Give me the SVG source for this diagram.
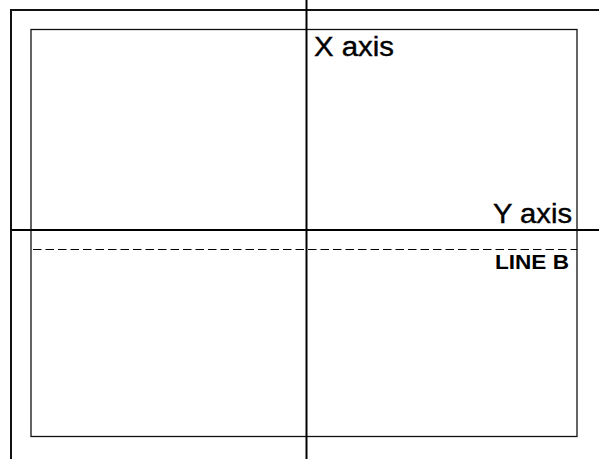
<svg xmlns="http://www.w3.org/2000/svg" width="599" height="459" viewBox="0 0 599 459">
<style>
.frame{stroke:#111;stroke-width:2;fill:none}
.axis{stroke:#000;stroke-width:2;fill:none}
.inner{stroke:#111;stroke-width:1.3;fill:none}
.dash{stroke:#000;stroke-width:1;stroke-dasharray:8.5 4;fill:none}
.lbl{font-family:"Liberation Sans",Arial,sans-serif;font-size:27px;fill:#000;stroke:#000;stroke-width:0.4}
.lblb{font-family:"Liberation Sans",Arial,sans-serif;font-size:20px;font-weight:bold;fill:#000}
</style>
<rect width="599" height="459" fill="#fff"/>
<g id="frame">
<line class="frame" x1="11" y1="10" x2="599" y2="10"/>
<line class="frame" x1="11" y1="9" x2="11" y2="459"/>
</g>
<g id="inner-box">
<rect class="inner" x="31" y="29.5" width="546" height="407"/>
</g>
<g id="connectors">
<line class="axis" x1="306.5" y1="0" x2="306.5" y2="459"/>
<line class="axis" x1="11" y1="230" x2="599" y2="230"/>
<line class="dash" x1="33" y1="249.5" x2="577" y2="249.5"/>
</g>
<g id="x-axis-label">
<text class="lbl" x="314" y="55.5" textLength="80" lengthAdjust="spacingAndGlyphs">X axis</text>
</g>
<g id="y-axis-label">
<text class="lbl" x="493" y="222.5" textLength="79" lengthAdjust="spacingAndGlyphs">Y axis</text>
</g>
<g id="line-b-label">
<text class="lblb" x="495" y="269" textLength="74" lengthAdjust="spacingAndGlyphs">LINE B</text>
</g>
</svg>
